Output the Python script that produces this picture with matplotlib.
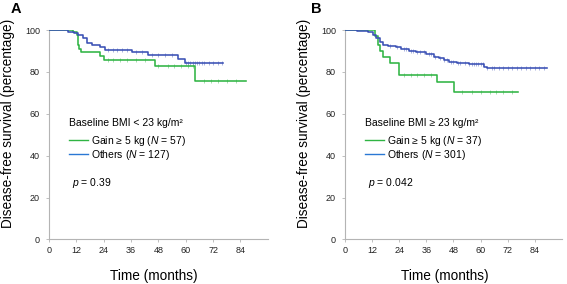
import numpy as np
import matplotlib
matplotlib.use('Agg')
import matplotlib.pyplot as plt
from matplotlib.lines import Line2D

plt.rcParams['font.family'] = ['Liberation Sans', 'DejaVu Sans']
plt.rcParams['mathtext.fontset'] = 'custom'
plt.rcParams['mathtext.rm'] = 'Liberation Sans'
plt.rcParams['mathtext.it'] = 'Liberation Sans:italic'

# Kaplan-Meier steps (months, % disease-free)

a_gain_t = [0, 10.7, 12.1, 12.9, 13.3, 13.9, 22.3, 24.2, 46.4, 64.2, 86.3]
a_gain_s = [100, 98.9, 97.7, 93.0, 91.2, 89.5, 87.8, 85.8, 83.0, 75.6, 75.6]
a_gain_cens = [26, 28, 31, 34, 38, 42, 48, 52, 55, 58, 61, 63, 68, 71, 74, 78, 82]

a_oth_t = [0, 8.3, 11.0, 12.7, 15.0, 16.5, 19.0, 22.3, 24.5, 36.2, 43.5, 56.6, 59.6, 76.3]
a_oth_s = [100, 99.3, 98.5, 97.7, 96.1, 93.8, 93.0, 92.1, 90.6, 89.5, 88.3, 86.4, 84.4, 84.4]
a_oth_cens = [26, 28, 30, 32, 34, 38, 41, 45, 48, 51, 54, 60, 61, 62, 63, 64, 65,
              66, 67, 68, 70, 72, 74, 76]

b_gain_t = [0, 13.1, 14.6, 15.3, 16.8, 19.7, 23.8, 40.9, 48.3, 76.4]
b_gain_s = [100, 97.3, 92.8, 89.8, 87.0, 84.2, 78.7, 75.0, 70.3, 70.3]
b_gain_cens = [26, 29, 32, 35, 38, 52, 56, 60, 64, 67, 70, 74]

b_oth_t = [0, 5.1, 10.2, 12.4, 13.9, 15.3, 16.8, 19.0, 22.7, 24.8, 28.5, 31.4,
           35.8, 39.4, 41.6, 43.8, 46.0, 49.7, 54.8, 61.4, 62.8, 89.4]
b_oth_s = [100, 99.5, 98.9, 97.6, 96.0, 94.4, 93.1, 92.3, 91.7, 90.9, 90.1, 89.3,
           88.4, 87.2, 86.5, 85.6, 84.8, 84.4, 83.6, 82.6, 81.7, 81.7]
b_oth_cens = [20, 23, 26, 27, 29, 30, 32, 33, 35, 37, 38, 40, 42, 44, 45, 47, 48,
              50, 51, 53, 55, 56, 57, 58, 59, 60, 61, 63, 65, 66, 68, 70, 72,
              74, 76, 78, 80, 82, 84, 86, 88]

x_ticks = [0, 12, 24, 36, 48, 60, 72, 84]
y_ticks = [0, 20, 40, 60, 80, 100]

GREEN = '#2fb443'
BLUE = '#3a50b5'
BLUE_LEG = '#2a78d4'
GREY = '#b4b4b4'


def km_value(t, s, x):
    idx = np.searchsorted(t, x, side='right') - 1
    return np.array(s)[idx]


def panel(ax, gain, oth, bmi_txt, n_gain, n_oth, p_txt, xlab_x, ylab_x):
    for (t, s, c), col in ((gain, GREEN), (oth, BLUE)):
        ax.step(t, s, where='post', color=col, lw=1.15, zorder=3)
        ax.plot(c, km_value(t, s, c), ls='none', marker='|', ms=3,
                mew=0.6, color=col, alpha=0.5, zorder=2)

    ax.set_xlim(0, 96)
    ax.set_ylim(0, 100)
    ax.set_xticks(x_ticks)
    ax.set_yticks(y_ticks)
    ax.spines['top'].set_visible(False)
    ax.spines['right'].set_visible(False)
    for sp in ('left', 'bottom'):
        ax.spines[sp].set_color(GREY)
        ax.spines[sp].set_linewidth(0.8)
    ax.tick_params(length=2.5, width=0.6, color=GREY, labelsize=6.5,
                   labelcolor='#222222')
    ax.tick_params(axis='y', pad=4)
    ax.tick_params(axis='x', pad=2.5)
    ax.set_xlabel('Time (months)', fontsize=9.8)
    ax.set_ylabel('Disease-free survival (percentage)', fontsize=9.8)
    ax.xaxis.set_label_coords(xlab_x, -0.143)
    ax.yaxis.set_label_coords(ylab_x, 0.556)

    handles = [Line2D([], [], color=GREEN, lw=1.0),
               Line2D([], [], color=BLUE_LEG, lw=1.0)]
    labels = ['Gain \u2265 5 kg ($N$ = %d)' % n_gain,
              'Others ($N$ = %d)' % n_oth]
    leg = ax.legend(handles, labels, title=bmi_txt, loc='upper left',
                    bbox_to_anchor=(0.06, 0.615), frameon=False, fontsize=7.5,
                    title_fontsize=7.5, alignment='left', handlelength=1.75,
                    handletextpad=0.3, labelspacing=0.0, borderpad=0.2)
    leg._legend_box.sep = 4
    ax.text(0.105, 0.27, '$p$ = ' + p_txt, transform=ax.transAxes,
            fontsize=7.5, va='center')


fig = plt.figure(figsize=(5.67, 2.84), dpi=100)
ax_a = fig.add_axes([0.0864, 0.157, 0.386, 0.737])
ax_b = fig.add_axes([0.6085, 0.157, 0.3825, 0.737])

panel(ax_a, (a_gain_t, a_gain_s, a_gain_cens), (a_oth_t, a_oth_s, a_oth_cens),
      'Baseline BMI < 23 kg/m\u00b2', 57, 127, '0.39', 0.477, -0.155)
panel(ax_b, (b_gain_t, b_gain_s, b_gain_cens), (b_oth_t, b_oth_s, b_oth_cens),
      'Baseline BMI \u2265 23 kg/m\u00b2', 37, 301, '0.042', 0.46, -0.157)

fig.text(16 / 567, 1 - 9 / 284, 'A', fontsize=10.5, fontweight='bold',
         ha='center', va='center')
fig.text(316 / 567, 1 - 9 / 284, 'B', fontsize=10.5, fontweight='bold',
         ha='center', va='center')

fig.savefig('out.png', dpi=100)
